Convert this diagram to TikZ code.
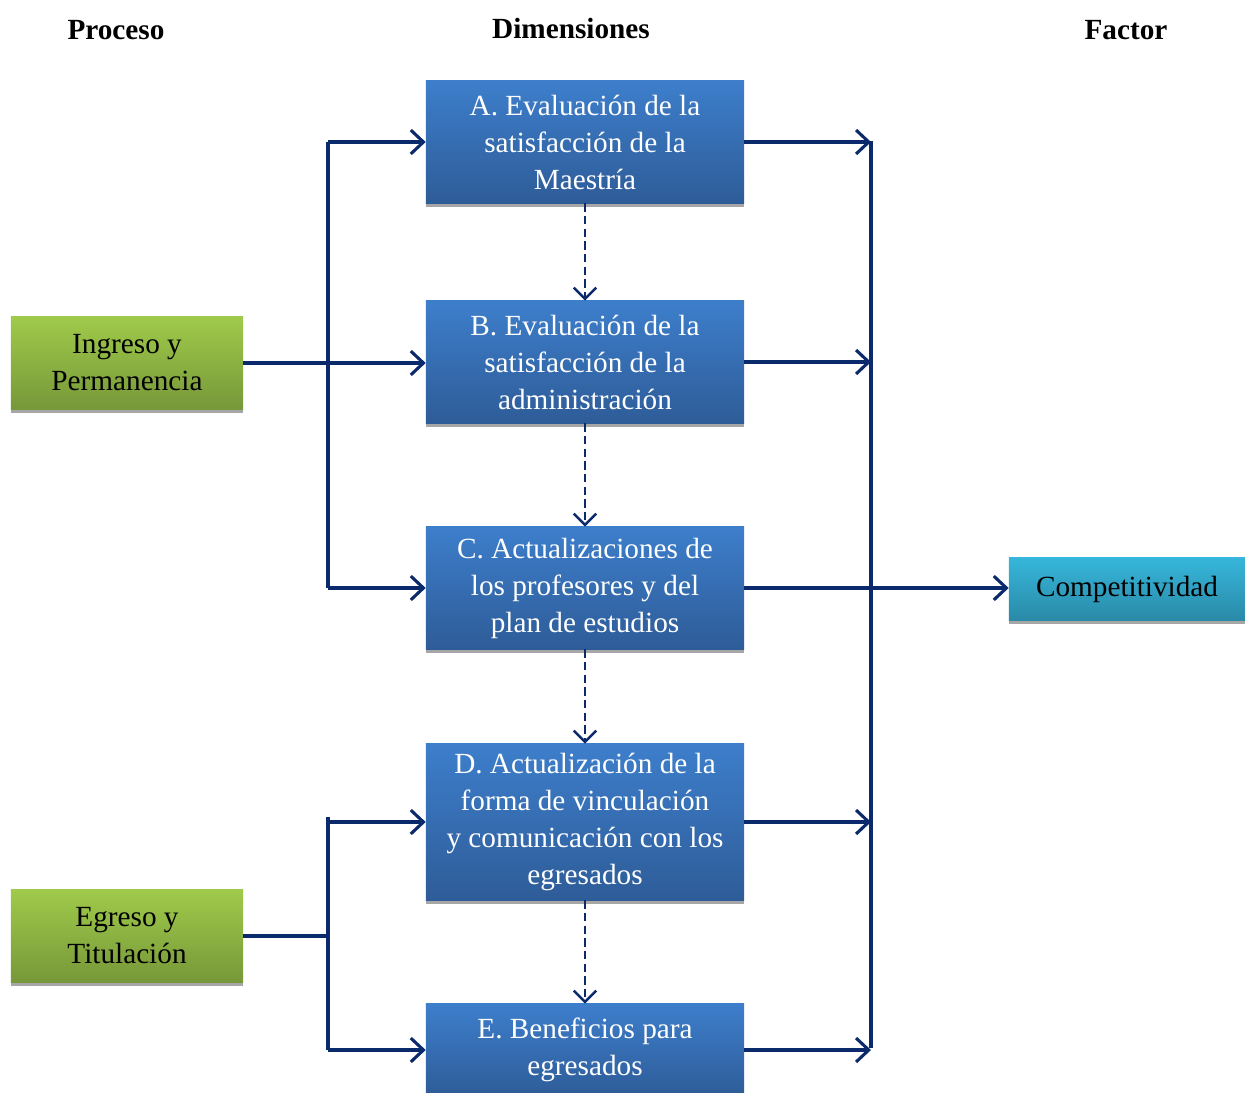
\documentclass[tikz,border=0pt]{standalone}
\usepackage{fontspec}
\setmainfont{Liberation Serif}
\usepackage{tikz}
\usetikzlibrary{arrows.meta,positioning,calc,shadows}
\definecolor{Navy}{HTML}{0B2A6B}
\definecolor{BoxTop}{HTML}{3D7ECB}
\definecolor{BoxBot}{HTML}{2E5C98}
\definecolor{GreenTop}{HTML}{9FCA4A}
\definecolor{GreenBot}{HTML}{779839}
\definecolor{CyanTop}{HTML}{36B6DA}
\definecolor{CyanBot}{HTML}{2A8AA8}

\begin{document}
\begin{tikzpicture}[
  x=0.025cm, y=-0.025cm,
  base/.style={inner sep=0pt, align=center, font=\fontsize{20.8}{26.3}\selectfont,
               drop shadow={shadow xshift=0pt, shadow yshift=-0.1cm, fill=black!35, opacity=1}},
  dim/.style={base, top color=BoxTop, bottom color=BoxBot, text=white,
              minimum width=7.95cm, minimum height=3.05cm},
  proc/.style={base, top color=GreenTop, bottom color=GreenBot,
               minimum width=5.8cm, minimum height=2.3cm},
  fac/.style={base, top color=CyanTop, bottom color=CyanBot,
              minimum width=5.9cm, minimum height=1.55cm},
  head/.style={font=\fontsize{20.8}{24}\selectfont\bfseries},
  line/.style={draw=Navy, line width=2.2pt},
  arr/.style={line, -{Straight Barb[length=9pt, width=17pt, line width=2.2pt]}},
  darr/.style={draw=Navy, line width=2pt, dash pattern=on 6pt off 3pt,
               -{Straight Barb[length=8pt, width=16pt, line width=1.8pt]}}
]
  \useasboundingbox (0,0) rectangle (1245,1093);

  \node[head] (hproc) at (116,30) {Proceso};
  \node[head] (hdim)  at (571,28) {Dimensiones};
  \node[head] (hfac)  at (1126,30) {Factor};

  \node[dim] (A) at (585,142) {A. Evaluación de la\\satisfacción de la\\Maestría};
  \node[dim] (B) at (585,362) {B. Evaluación de la\\satisfacción de la\\administración};
  \node[dim] (C) at (585,588) {C. Actualizaciones de\\los profesores y del\\plan de estudios};
  \node[dim, minimum height=3.9cm] (D) at (585,822)
    {D. Actualización de la\\forma de vinculación\\y comunicación con los\\egresados};
  \node[dim, minimum height=2.3cm] (E) at (585,1050) {E. Beneficios para\\egresados};

  \node[proc] (ing) at (127,363) {Ingreso y\\Permanencia};
  \node[proc] (egr) at (127,936) {Egreso y\\Titulación};
  \node[fac] (comp) at (1127,589) {Competitividad};

  \coordinate (lt) at (328,142);
  \coordinate (lb) at (328,588);
  \coordinate (lt2) at (328,817);
  \coordinate (lb2) at (328,1050);
  \coordinate (rt) at (871,141);
  \coordinate (rb) at (871,1048);

  \draw[line] (lt) -- (lb);
  \draw[line] (lt2) -- (lb2);
  \draw[line] (rt) -- (rb);

  \draw[arr] (lt) -- (A.west);
  \draw[arr] (ing.east) -- (ing.east -| B.west);
  \draw[arr] (lb) -- (C.west);
  \draw[line] (egr.east) -- (egr.east -| lt2);
  \draw[arr] (D.west -| lt2) -- (D.west);
  \draw[arr] (lb2) -- (E.west);

  \draw[arr] (A.east) -- (A.east -| rt);
  \draw[arr] (B.east) -- (B.east -| rt);
  \draw[arr] (C.east) -- (C.east -| comp.west);
  \draw[arr] (D.east) -- (D.east -| rt);
  \draw[arr] (E.east) -- (E.east -| rt);

  \draw[darr] (A.south) -- (B.north);
  \draw[darr] (B.south) -- (C.north);
  \draw[darr] (C.south) -- (D.north);
  \draw[darr] (D.south) -- (E.north);
\end{tikzpicture}
\end{document}
